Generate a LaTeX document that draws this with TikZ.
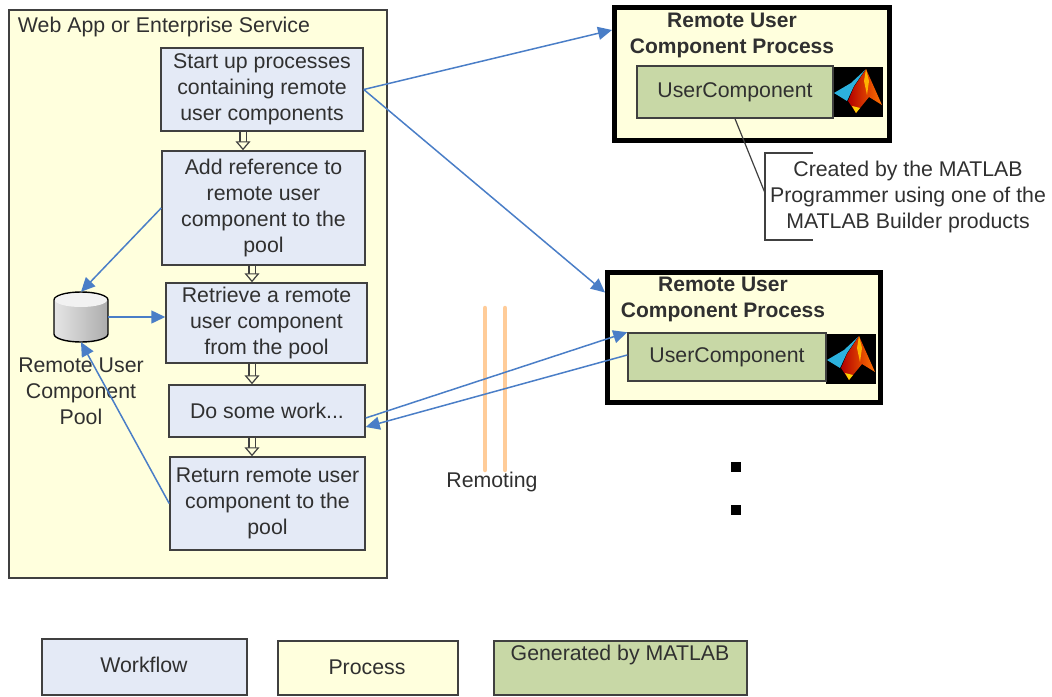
\documentclass[tikz,border=0pt]{standalone}
\usepackage{fontspec}
\setmainfont{Liberation Sans}
\usetikzlibrary{arrows.meta,calc}
\definecolor{cream}{HTML}{FFFFDD}
\definecolor{flow}{HTML}{E4EAF6}
\definecolor{gen}{HTML}{C8D8A6}
\definecolor{link}{HTML}{4A7EC7}
\definecolor{ink}{HTML}{303030}
\definecolor{edge}{HTML}{404040}
\definecolor{remoting}{HTML}{FFCC99}
\tikzset{
  every node/.style={text=ink,font=\fontsize{21.3}{26}\selectfont,align=center,inner sep=0pt},
  flowbox/.style={draw=edge,fill=flow,line width=1.5pt},
  procbox/.style={draw=edge,fill=cream,line width=1.5pt},
  genbox/.style={draw=edge,fill=gen,line width=1.5pt},
  remotebox/.style={draw=black,fill=cream,line width=5pt},
  heading/.style={font=\bfseries\fontsize{21}{26}\selectfont},
  linkline/.style={draw=link,line width=1.5pt,-{Triangle[length=14pt,width=13pt]}},
  stepline/.style={draw=edge,line width=1.2pt,double=cream,double distance=5pt,-{Triangle[open,fill=cream,length=9pt,width=15pt]}},
  remoteline/.style={draw=remoting,line width=4.5pt,line cap=round},
  dotmark/.style={fill=black,minimum width=10pt,minimum height=10pt},
  pics/matlablogo/.style={code={
    \fill[black] (0,0) rectangle (50,50);
    \fill[link!60!cyan] (1,26) -- (18,16) -- (32,3) -- (21,19) -- (14,34) -- cycle;
    \shade[left color=red!70!black,right color=orange!90!red] (33,2) -- (49,38) -- (36,30) -- (23,46) -- (15,34) -- (21,20) -- cycle;
    \fill[orange!60!yellow] (33,2) -- (36,14) -- (34,28) -- (31,14) -- cycle;
    \fill[yellow!70!orange] (23,46) -- (19,39) -- (27,41) -- cycle;
  }}
}
\begin{document}
\begin{tikzpicture}[x=1pt,y=-1pt]
\useasboundingbox (0,0) rectangle (1052,696);
\coordinate (h1) at (243,0);
\coordinate (h2) at (252,0);

% main process
\node[procbox,minimum width=378pt,minimum height=568pt] (app) at (198,294) {};
\node (apptitle) at (164,27) {Web App or Enterprise Service};

% workflow
\node[flowbox,minimum width=202pt,minimum height=83pt] (start) at (262,89.5) {Start up processes\\containing remote\\user components};
\node[flowbox,minimum width=203pt,minimum height=114pt] (add) at (263.5,208) {Add reference to\\remote user\\component to the\\pool};
\node[flowbox,minimum width=201pt,minimum height=80pt] (retrieve) at (266.5,323) {Retrieve a remote\\user component\\from the pool};
\node[flowbox,minimum width=196pt,minimum height=52pt] (work) at (267,411) {Do some work...};
\node[flowbox,minimum width=195pt,minimum height=93pt] (back) at (267.5,503.5) {Return remote user\\component to the\\pool};

\draw[stepline] (start.south -| h1) -- (add.north -| h1);
\draw[stepline] (add.south -| h2) -- (retrieve.north -| h2);
\draw[stepline] (retrieve.south -| h2) -- (work.north -| h2);
\draw[stepline] (work.south -| h2) -- (back.north -| h2);

% pool cylinder
\node[minimum width=54pt,minimum height=50pt] (pool) at (81,317) {};
\shade[left color=gray!20,right color=gray!65,draw=black,line width=1.4pt]
  (54,300) -- (54,334) arc[start angle=180,end angle=0,x radius=27,y radius=8] -- (108,300) arc[start angle=0,end angle=-180,x radius=27,y radius=8] -- cycle;
\fill[white!95!black] (81,300) ellipse[x radius=26,y radius=7];
\node (pooltext) at (81,391) {Remote User\\Component\\Pool};

\draw[linkline] (add.west) -- (pool.north);
\draw[linkline] (pool.east) -- (pool.east -| retrieve.west);
\draw[linkline] (back.west) -- (pool.south);

% remote process 1
\node[remotebox,minimum width=275pt,minimum height=133pt] (rp1) at (752,74) {};
\node[heading] (rp1t) at (732,35) {Remote User\\Component Process};
\path (833,67) pic {matlablogo};
\node[genbox,minimum width=196pt,minimum height=52pt] (uc1) at (735,92) {UserComponent};

% remote process 2
\node[remotebox,minimum width=273pt,minimum height=130pt] (rp2) at (744,337.5) {};
\node[heading] (rp2t) at (723,299) {Remote User\\Component Process};
\path (826,334) pic {matlablogo};
\node[genbox,minimum width=198pt,minimum height=48pt] (uc2) at (727,357) {UserComponent};

% note
\node (note) at (908,196.5) {Created by the MATLAB\\Programmer using one of the\\MATLAB Builder products};
\coordinate (brtop) at (813,153);
\coordinate (brtopl) at (765,153);
\coordinate (brmid) at (765,193);
\coordinate (brbotl) at (765,240);
\coordinate (brbot) at (813,240);
\draw[edge,line width=1.2pt] (brtop) -- (brtopl) -- (brbotl) -- (brbot);
\draw[edge,line width=1.2pt] (uc1.south) -- (brmid);

% remoting
\coordinate (ra1) at (485,308);
\coordinate (ra2) at (485,470);
\coordinate (rb1) at (505,308);
\coordinate (rb2) at (505,470);
\draw[remoteline] (ra1) -- (ra2);
\draw[remoteline] (rb1) -- (rb2);
\node (remotingtext) at (492,482) {Remoting};

% links to remote processes
\draw[linkline] (start.east) -- ([yshift=44pt]rp1.west);
\draw[linkline] (start.east) -- ([yshift=45pt]rp2.west);
\draw[linkline] ([yshift=-7pt]work.east) -- (uc2.north west);
\draw[linkline] ([yshift=2pt]uc2.west) -- ([yshift=-16pt]work.east);

% dots
\node[dotmark] (d1) at (736,467) {};
\node[dotmark] (d2) at (736,510) {};

% legend
\node[flowbox,minimum width=205pt,minimum height=56pt] (lg1) at (144.5,667) {};
\node at (144,665) {Workflow};
\node[procbox,minimum width=180pt,minimum height=54pt] (lg2) at (368,668) {};
\node at (367,667) {Process};
\node[genbox,minimum width=253pt,minimum height=54pt] (lg3) at (620.5,668) {};
\node at (620,655) {Generated by MATLAB};
\end{tikzpicture}
\end{document}
